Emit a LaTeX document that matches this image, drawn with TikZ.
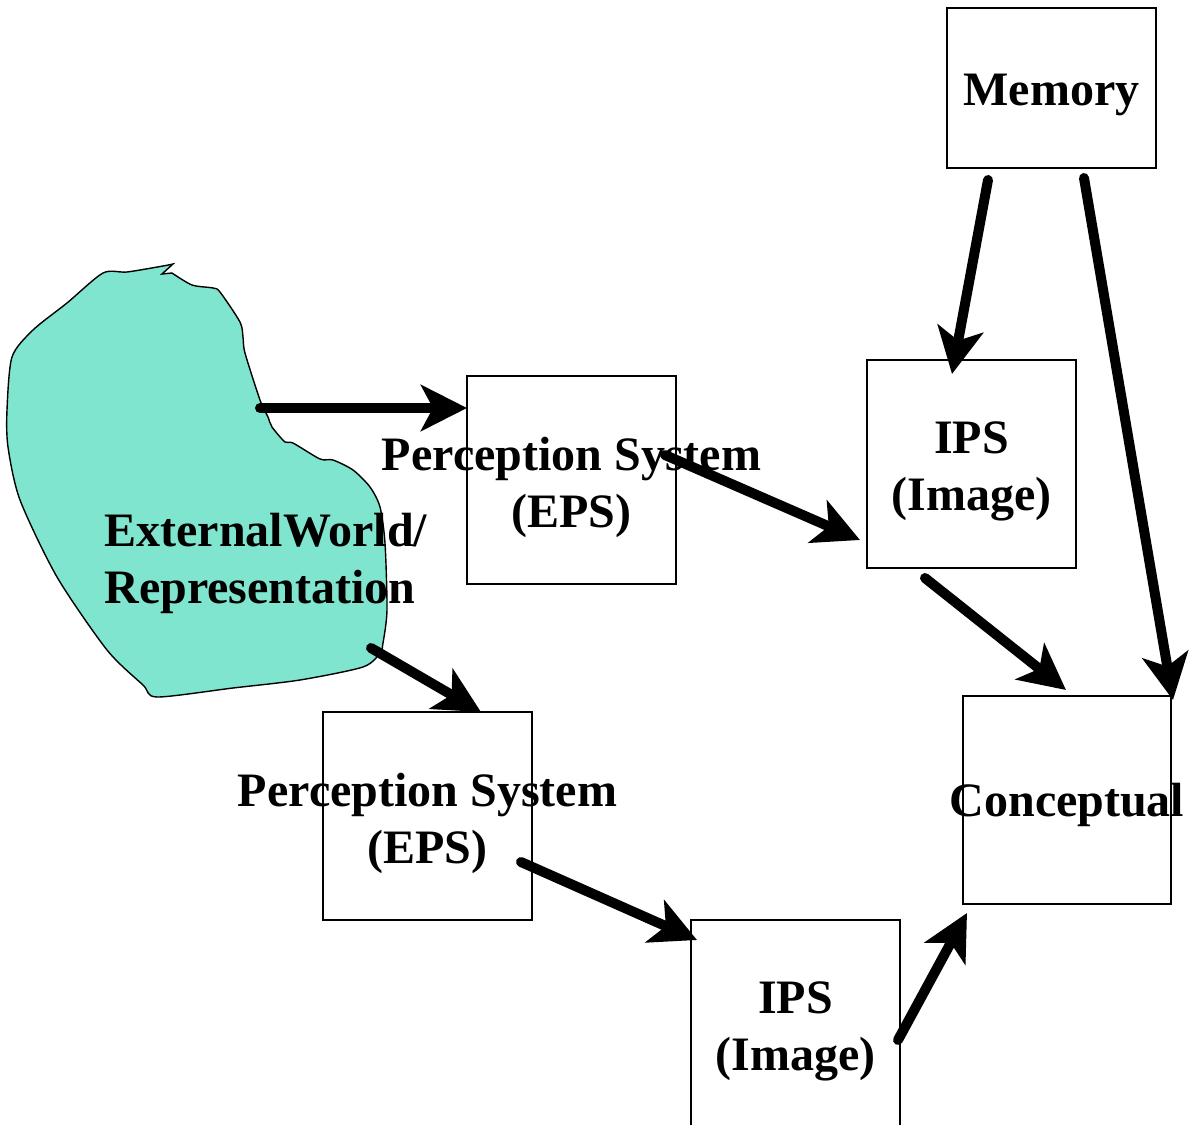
\documentclass[tikz,border=0pt]{standalone}
\usepackage{fontspec}
\setmainfont{Liberation Serif}
\usetikzlibrary{arrows.meta}
\definecolor{worldfill}{RGB}{128,229,206}
\begin{document}
\begin{tikzpicture}[x=0.5pt,y=-0.5pt,
  blk/.style={draw=black,line width=0.75pt,inner sep=0pt,minimum width=104.5pt,minimum height=104pt},
  txt/.style={inner sep=0pt,align=center,font=\fontsize{24}{28.5}\selectfont\bfseries},
  lbl/.style={inner sep=0pt,align=left,font=\fontsize{24}{28.5}\selectfont\bfseries},
  arr/.style={line width=5pt,line cap=round,-{Stealth[length=23pt,width=23pt,inset=6pt]}},
]
\useasboundingbox (0,0) rectangle (1191,1125);
\clip (0,0) rectangle (1191,1125);
% external world blob
\filldraw[fill=worldfill,draw=black,line width=0.7pt]
  plot[smooth,tension=0.45] coordinates {(172,273) (192,285) (213,288) (220,292) (240,322) (243,337) (245,353)
  (260,400) (268,417) (272,427) (285,442) (293,443) (320,459) (333,460) (353,470) (370,487)
  (380,507) (385,543) (387,610) (383,643) (380,653) (363,667) (300,680) (233,688) (157,697)
  (143,685) (107,650) (57,577) (20,500) (8,447) (7,410) (12,357) (33,330) (67,303) (103,273)
  (127,272) (163,266) (173,264)} -- (162,274) -- cycle;
\node[lbl,anchor=west] (world) at (104,563) {ExternalWorld/\\Representation};
% boxes
\node[blk,minimum height=80pt] (mem) at (1051.5,88) {};
\node[blk] (eps1) at (571.5,480) {};
\node[blk] (ips1) at (971.5,464) {};
\node[blk] (eps2) at (427.5,816) {};
\node[blk] (ips2) at (795.5,1024) {};
\node[blk,minimum width=104pt] (conc) at (1067,800) {};
% box texts
\node[txt] (memt) at ([yshift=-3.5pt]mem.center) {Memory};
\node[txt] (eps1t) at ([yshift=-3.5pt]eps1.center) {Perception System\\(EPS)};
\node[txt] (ips1t) at ([yshift=-3.5pt]ips1.center) {IPS\\(Image)};
\node[txt] (eps2t) at ([yshift=-3.5pt]eps2.center) {Perception System\\(EPS)};
\node[txt] (ips2t) at ([yshift=-3.5pt]ips2.center) {IPS\\(Image)};
\node[txt] (conct) at ([yshift=-2.5pt]conc.center) {Conceptual};
% connector end points
\coordinate (w1) at (260,408);
\coordinate (w2) at (371,648);
\coordinate (e1a) at (665,455);
\coordinate (e1b) at (467,408);
\coordinate (i1in) at (860,540);
\coordinate (m1) at (988,180);
\coordinate (i1top) at (952,374);
\coordinate (m2) at (1084,178);
\coordinate (ctr) at (1173,700);
\coordinate (i1out) at (925,578);
\coordinate (ctop) at (1066,690);
\coordinate (e2in) at (481,712);
\coordinate (e2out) at (521,862);
\coordinate (i2in) at (697,940);
\coordinate (i2out) at (898,1040);
\coordinate (cbl) at (967,913);
% connectors
\draw[arr] (w1) -- (e1b);
\draw[arr] (e1a) -- (i1in);
\draw[arr] (m1) -- (i1top);
\draw[arr] (m2) -- (ctr);
\draw[arr] (i1out) -- (ctop);
\draw[arr] (w2) -- (e2in);
\draw[arr] (e2out) -- (i2in);
\draw[arr] (i2out) -- (cbl);
\end{tikzpicture}
\end{document}
